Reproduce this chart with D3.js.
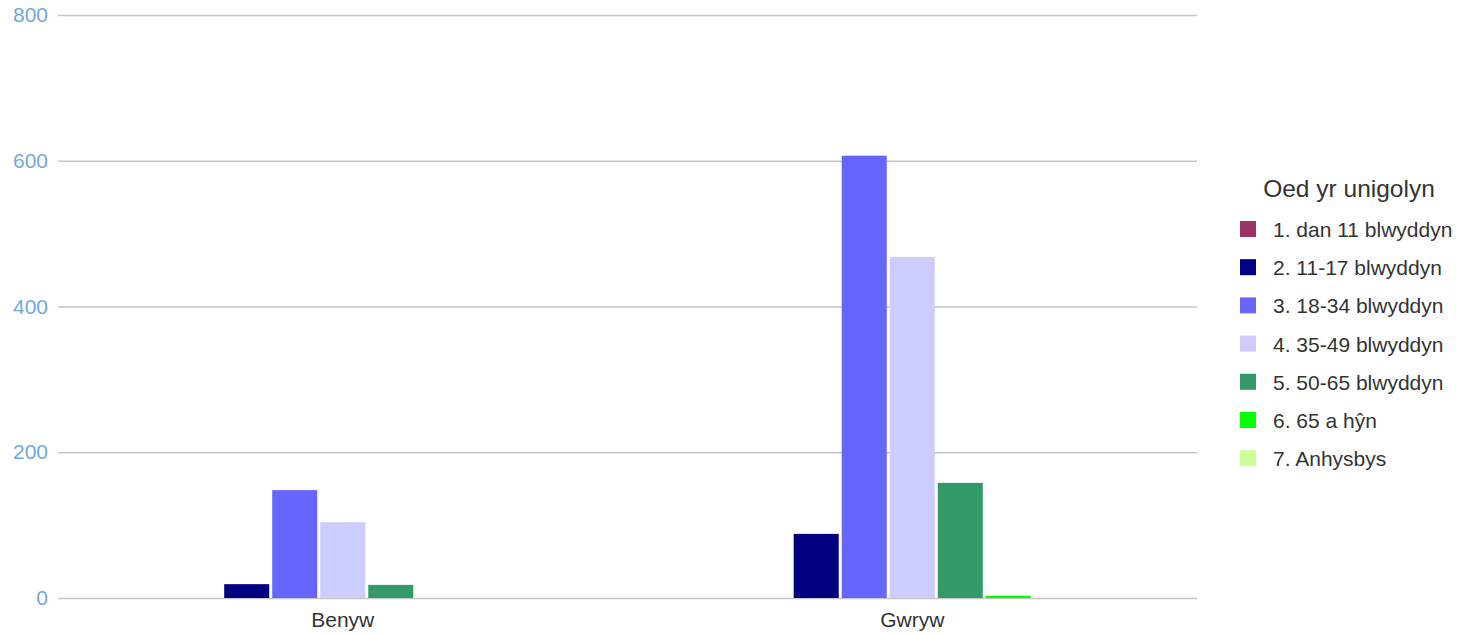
<!DOCTYPE html>
<html>
<head>
<meta charset="utf-8">
<script src="https://cdn.jsdelivr.net/npm/d3@7"></script>
<style>
  body { margin: 0; background: #fff; }
  svg { display: block; font-family: "Liberation Sans", Arial, sans-serif; }
</style>
</head>
<body>
<div id="chart"></div>
<script>
// Data
const categories = ["Benyw", "Gwryw"];
const seriesNames = [
  "1. dan 11 blwyddyn",
  "2. 11-17 blwyddyn",
  "3. 18-34 blwyddyn",
  "4. 35-49 blwyddyn",
  "5. 50-65 blwyddyn",
  "6. 65 a hŷn",
  "7. Anhysbys"
];
const seriesColours = ["#993366", "#000080", "#6666ff", "#ccccff", "#339966", "#00ff00", "#ccff99"];
const benywValues = [0, 19, 148, 104, 18, 0, 0];
const gwrywValues = [0, 88, 607, 468, 158, 3, 0];
const yTicks = [0, 200, 400, 600, 800];
const legendTitle = "Oed yr unigolyn";

const width = 1459;
const height = 636;
const margin = { top: 15, right: 262, bottom: 38, left: 58 };

const rows = categories.map((c, i) => ({
  key: c,
  values: [benywValues, gwrywValues][i]
}));

// SVG
const svg = d3.select('#chart')
  .append("svg")
  .attr("width", width)
  .attr("height", height);

// Scales
const x0 = d3.scaleBand()
  .domain(categories)
  .range([margin.left, width - margin.right])
  .paddingInner(0.415)
  .paddingOuter(0.2075);

const x1 = d3.scaleBand()
  .domain(d3.range(seriesNames.length))
  .range([0, x0.bandwidth()])
  .paddingInner(0.0625)
  .paddingOuter(0);

const y = d3.scaleLinear()
  .domain([0, 800])
  .range([height - margin.bottom, margin.top]);

// Gridlines
svg.append("g")
  .attr("class", "grid")
  .selectAll("line")
  .data(yTicks)
  .join("line")
    .attr("x1", margin.left)
    .attr("x2", width - margin.right)
    .attr("y1", d => y(d) + 0.5)
    .attr("y2", d => y(d) + 0.5)
    .attr("stroke", "#c6c6c6")
    .attr("stroke-width", 1.5);

// Y axis labels
const yAxis = svg.append("g")
  .attr("transform", `translate(${margin.left - 10},0)`)
  .call(d3.axisLeft(y).tickValues(yTicks).tickSize(0).tickPadding(0));
yAxis.select(".domain").remove();
yAxis.selectAll("text")
  .attr("fill", "#6fa8dc")
  .attr("font-size", 21)
  .attr("font-family", "Liberation Sans, Arial, sans-serif");

// Bars
const groups = svg.append("g")
  .selectAll("g")
  .data(rows)
  .join("g")
    .attr("transform", d => `translate(${x0(d.key)},0)`);

groups.selectAll("rect")
  .data(d => d.values.map((v, i) => ({ i, v })).filter(e => e.v > 0))
  .join("rect")
    .attr("x", d => x1(d.i))
    .attr("y", d => y(d.v))
    .attr("width", x1.bandwidth())
    .attr("height", d => y(0) - y(d.v))
    .attr("fill", d => seriesColours[d.i]);

// X axis labels
const xAxis = svg.append("g")
  .attr("transform", `translate(0,${y(0) + 14})`)
  .call(d3.axisBottom(x0).tickSize(0).tickPadding(0));
xAxis.select(".domain").remove();
xAxis.selectAll("text")
  .attr("fill", "#333333")
  .attr("font-size", 21)
  .attr("font-family", "Liberation Sans, Arial, sans-serif");

// Legend
const legend = svg.append("g")
  .attr("class", "legend");

legend.append("text")
  .attr("x", 1349)
  .attr("y", 197)
  .attr("text-anchor", "middle")
  .attr("font-size", 24.5)
  .attr("fill", "#333333")
  .text(legendTitle);

const items = legend.selectAll("g.item")
  .data(seriesNames)
  .join("g")
    .attr("class", "item")
    .attr("transform", (d, i) => `translate(1240,${221 + i * 38.2})`);

items.append("rect")
  .attr("width", 16)
  .attr("height", 16)
  .attr("fill", (d, i) => seriesColours[i]);

items.append("text")
  .attr("x", 33)
  .attr("y", 16)
  .attr("font-size", 21)
  .attr("fill", "#333333")
  .text(d => d);
</script>
</body>
</html>
